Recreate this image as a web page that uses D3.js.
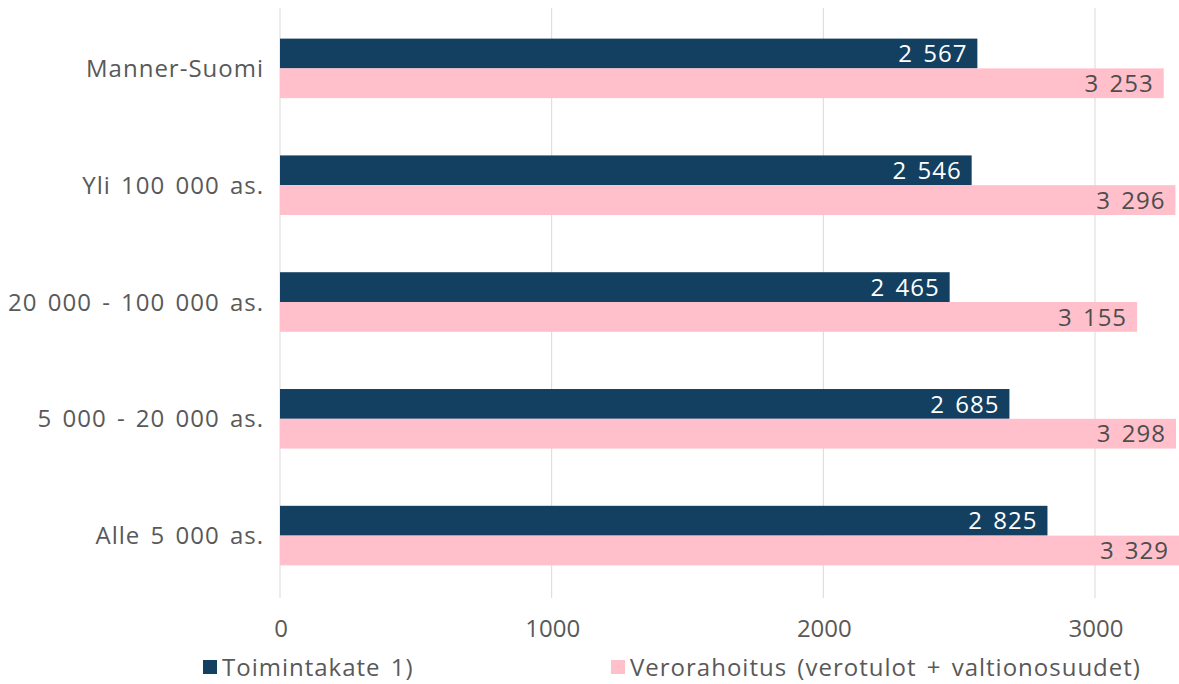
<!DOCTYPE html>
<html>
<head>
<meta charset="utf-8">
<script src="https://cdn.jsdelivr.net/npm/d3@7"></script>
<style>
  body { margin: 0; background: #fff; }
  svg text { font-family: "Open Sans", "Noto Sans", sans-serif; letter-spacing: 1px; word-spacing: 3px; }
  svg text.tick { letter-spacing: 0; }
</style>
</head>
<body>
<div class="container"></div>
<script>
const WIDTH = 1179;
const HEIGHT = 684;

var categories = ["Manner-Suomi", "Yli 100 000 as.", "20 000 - 100 000 as.", "5 000 - 20 000 as.", "Alle 5 000 as."];
var toimintakate = [2567, 2546, 2465, 2685, 2825];
var verorahoitus = [3253, 3296, 3155, 3298, 3329];
var seriesNames = ["Toimintakate 1)", "Verorahoitus (verotulot + valtionosuudet)"];
var colors = ["#133f61", "#ffc0cb"];
var xTicks = [0, 1000, 2000, 3000];

var fmt = function (v) {
  return d3.format(",")(v).replace(/,/g, " ");
};

var svg = d3.select('.container').append('svg')
  .attr('width', WIDTH)
  .attr('height', HEIGHT);

var xScale = d3.scaleLinear()
  .domain([0, 3000])
  .range([280, 1095]);

var yScale = d3.scaleBand()
  .domain(categories)
  .range([10, 594])
  .paddingInner(0.49)
  .paddingOuter(0.245);

var sub = d3.scaleBand()
  .domain([0, 1])
  .range([0, yScale.bandwidth()]);

// gridlines
svg.append('g').selectAll('line')
  .data(xTicks)
  .enter().append('line')
  .attr('x1', function (d) { return xScale(d); })
  .attr('x2', function (d) { return xScale(d); })
  .attr('y1', 8)
  .attr('y2', 598)
  .attr('stroke', '#d9d9d9')
  .attr('stroke-width', 1);

// tick labels
svg.append('g').selectAll('text')
  .data(xTicks)
  .enter().append('text')
  .attr('class', 'tick')
  .attr('x', function (d) { return xScale(d) + 1; })
  .attr('y', 637)
  .attr('text-anchor', 'middle')
  .attr('font-size', 24)
  .attr('fill', '#595959')
  .text(function (d) { return d; });

// category labels
svg.append('g').selectAll('text')
  .data(categories)
  .enter().append('text')
  .attr('x', 264)
  .attr('y', function (d) { return yScale(d) + yScale.bandwidth() / 2; })
  .attr('dy', '0.36em')
  .attr('text-anchor', 'end')
  .attr('font-size', 24)
  .attr('fill', '#595959')
  .text(function (d) { return d; });

var series = [toimintakate, verorahoitus];

series.forEach(function (vals, si) {
  var g = svg.append('g');
  g.selectAll('rect')
    .data(vals)
    .enter().append('rect')
    .attr('x', xScale(0))
    .attr('y', function (d, i) { return yScale(categories[i]) + sub(si); })
    .attr('width', function (d) { return xScale(d) - xScale(0); })
    .attr('height', sub.bandwidth())
    .attr('fill', colors[si]);

  g.selectAll('text')
    .data(vals)
    .enter().append('text')
    .attr('x', function (d) { return Math.min(xScale(d), WIDTH) - 10; })
    .attr('y', function (d, i) { return yScale(categories[i]) + sub(si) + sub.bandwidth() / 2; })
    .attr('dy', '0.36em')
    .attr('text-anchor', 'end')
    .attr('font-size', 24)
    .attr('fill', si === 0 ? '#ffffff' : '#4d4d4d')
    .text(function (d) { return fmt(d); });
});

// legend
var legendX = [203, 611];
var legend = svg.append('g');
seriesNames.forEach(function (name, i) {
  legend.append('rect')
    .attr('x', legendX[i])
    .attr('y', 660)
    .attr('width', 14)
    .attr('height', 14)
    .attr('fill', colors[i]);
  legend.append('text')
    .attr('x', legendX[i] + 19)
    .attr('y', 667)
    .attr('dy', '0.36em')
    .attr('font-size', 24)
    .attr('fill', '#595959')
    .text(name);
});
</script>
</body>
</html>
